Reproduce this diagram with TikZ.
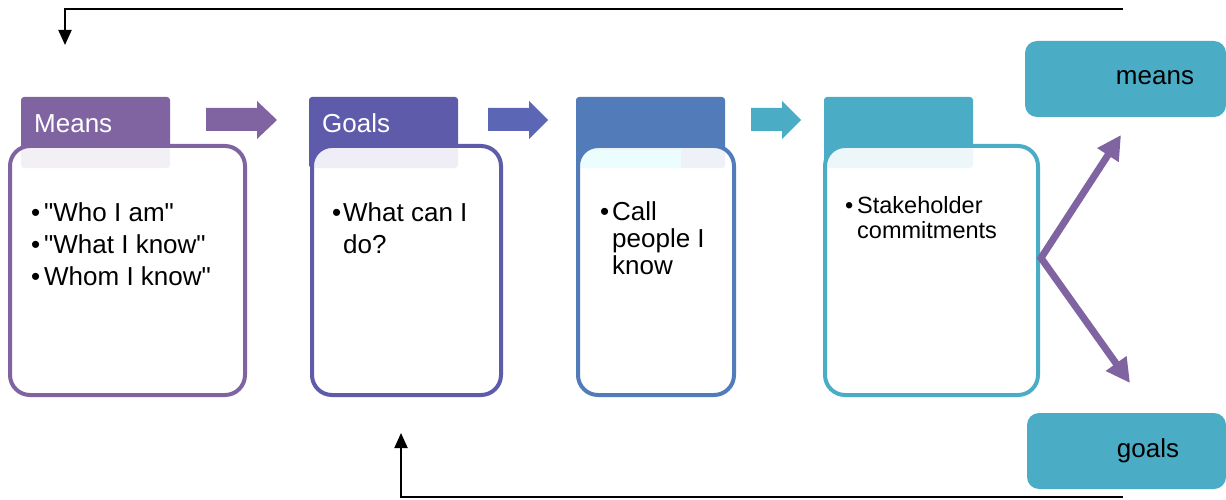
\documentclass[tikz,border=0pt]{standalone}
\usepackage{fontspec}
\setmainfont{Liberation Sans}[Ligatures=TeXOff]
\usetikzlibrary{arrows.meta}

\definecolor{cMeans}{RGB}{128,100,162}
\definecolor{cGoals}{RGB}{95,91,171}
\definecolor{cCall}{RGB}{82,123,186}
\definecolor{cStake}{RGB}{75,172,198}
\definecolor{cArrowB}{RGB}{91,103,180}
\definecolor{cTint}{RGB}{55,245,235}

\newcommand\bul[1]{\makebox[#1][l]{•}}

\tikzset{
  tab/.style={rectangle, rounded corners=3pt, inner sep=0pt, outer sep=0pt,
    minimum width=149pt, minimum height=71pt},
  body/.style={rectangle, rounded corners=20pt, draw=#1, line width=4pt,
    fill=white, fill opacity=0.9, inner sep=0pt, outer sep=0pt,
    minimum height=249pt},
  head/.style={font=\fontsize{26}{30}\selectfont, text=white, anchor=base west, inner sep=0pt},
  item/.style={font=\fontsize{26}{30}\selectfont, anchor=base west, inner sep=0pt},
  smallitem/.style={font=\fontsize{23.5}{25}\selectfont, anchor=base west, inner sep=0pt},
  side/.style={rectangle, rounded corners=12pt, fill=cStake, inner sep=0pt,
    outer sep=0pt, minimum height=76pt},
  sidetext/.style={font=\fontsize{26}{30}\selectfont, anchor=base, inner sep=0pt},
  feedback/.style={line width=2pt, -{Triangle[length=15pt,width=13pt]}},
  split/.style={line width=7pt, draw=cMeans, line join=miter,
    {Triangle[length=24pt,width=24pt]}-{Triangle[length=24pt,width=24pt]}},
}

\begin{document}
\begin{tikzpicture}[x=1pt, y=-1pt]
  \useasboundingbox (0,0) rectangle (1226,500);

  % feedback loops
  \coordinate (topR) at (1123,9);
  \coordinate (topL) at (65,9);
  \coordinate (topEnd) at (65,45);
  \coordinate (botR) at (1123,497);
  \coordinate (botL) at (401,497);
  \coordinate (botEnd) at (401,433);
  \draw[feedback] (topR) -- (topL) -- (topEnd);
  \draw[feedback] (botR) -- (botL) -- (botEnd);

  % tabs
  \node[tab, fill=cMeans] (tab1) at (95.5,132.5) {};
  \node[tab, fill=cGoals] (tab2) at (383.5,132.5) {};
  \node[tab, fill=cCall]  (tab3) at (650.5,132.5) {};
  \begin{scope}
    \clip[rounded corners=20pt] (578,146) rectangle (734,395);
    \fill[cTint] (576,150) rectangle (681,168);
  \end{scope}
  \node[tab, fill=cStake] (tab4) at (898.5,132.5) {};

  % bodies
  \node[body=cMeans, minimum width=235pt] (box1) at (127.5,270.5) {};
  \node[body=cGoals, minimum width=189pt] (box2) at (406.5,270.5) {};
  \node[body=cCall,  minimum width=156pt] (box3) at (656,270.5) {};
  \node[body=cStake, minimum width=213pt] (box4) at (931.5,270.5) {};

  % headings
  \node[head] (h1) at (34,132) {Means};
  \node[head] (h2) at (322,132) {Goals};

  % box texts
  \node[item] (m1) at (31,221) {\bul{13pt}"Who I am"};
  \node[item] (m2) at (31,253) {\bul{13pt}"What I know"};
  \node[item] (m3) at (31,285) {\bul{13pt}Whom I know"};

  \node[item] (g1) at (332,221) {\bul{11pt}What can I};
  \node[item] (g2) at (343,253) {do?};

  \node[item] (c1) at (600,220) {\bul{12pt}Call};
  \node[item] (c2) at (612,247) {people I};
  \node[item] (c3) at (612,274) {know};

  \node[smallitem] (s1) at (845,213) {\bul{12pt}Stakeholder};
  \node[smallitem] (s2) at (857,238) {commitments};

  % block arrows between the steps
  \fill[cMeans]  (206,108) -- (257,108) -- (257,101) -- (277,120) -- (257,139) -- (257,131) -- (206,131) -- cycle;
  \fill[cArrowB] (488,108) -- (529,108) -- (529,101) -- (548,120) -- (529,139) -- (529,131) -- (488,131) -- cycle;
  \fill[cStake]  (751,108) -- (782,108) -- (782,101) -- (801,120) -- (782,139) -- (782,131) -- (751,131) -- cycle;

  % outcome boxes
  \node[side, minimum width=201pt] (means) at (1125.5,79) {};
  \node[side, minimum width=199pt] (goals) at (1126.5,451) {};
  \node[sidetext] (meansT) at (1155,85) {means};
  \node[sidetext] (goalsT) at (1148,457) {goals};

  % split arrow
  \coordinate (vtx) at (1041,258);
  \coordinate (upTip) at (1121,135);
  \coordinate (downTip) at (1130,383);
  \draw[split] (upTip) -- (vtx) -- (downTip);
\end{tikzpicture}
\end{document}
